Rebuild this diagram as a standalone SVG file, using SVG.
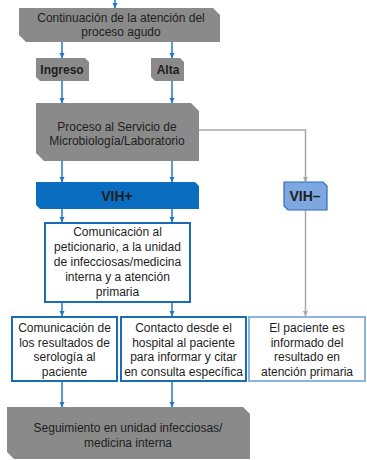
<svg xmlns="http://www.w3.org/2000/svg" width="367" height="460" viewBox="0 0 367 460">
<style>
.grey{fill:#8a8a8a}
.blue{fill:#0b6dbf}
.lblue{fill:#7ca7df;stroke:#2c6fb7;stroke-width:1.2}
.wbox{fill:#fff;stroke:#1a6db5;stroke-width:2}
.wbox2{fill:#fff;stroke:#8db2df;stroke-width:2}
text{font-family:"Liberation Sans",Arial,sans-serif;font-size:12px;fill:#1e1e1e;text-anchor:middle}
.b{font-weight:bold}
.v{font-weight:bold;font-size:14px}
.c{stroke:#1f78c8;stroke-width:1.5;fill:none}
.g{stroke:#a8a8a8;stroke-width:1.5;fill:none}
</style>
<defs>
<marker id="arr" markerWidth="6" markerHeight="6" refX="5" refY="3" orient="auto" markerUnits="userSpaceOnUse" viewBox="0 0 6 6"><path d="M0,0.5 L5.5,3 L0,5.5 Z" fill="#1f78c8"/></marker>
<marker id="arrg" markerWidth="6" markerHeight="6" refX="5" refY="3" orient="auto" markerUnits="userSpaceOnUse" viewBox="0 0 6 6"><path d="M0,0.5 L5.5,3 L0,5.5 Z" fill="#a8a8a8"/></marker>
</defs>
<g id="connectors">
<line class="c" x1="115" y1="0" x2="115" y2="8" marker-end="url(#arr)"/>
<line class="c" x1="62" y1="42" x2="62" y2="58" marker-end="url(#arr)"/>
<line class="c" x1="172" y1="42" x2="172" y2="58" marker-end="url(#arr)"/>
<line class="c" x1="62" y1="81" x2="62" y2="103" marker-end="url(#arr)"/>
<line class="c" x1="172" y1="81" x2="172" y2="103" marker-end="url(#arr)"/>
<line class="c" x1="62" y1="161" x2="62" y2="182" marker-end="url(#arr)"/>
<line class="c" x1="172" y1="161" x2="172" y2="182" marker-end="url(#arr)"/>
<line class="c" x1="62" y1="209" x2="62" y2="222" marker-end="url(#arr)"/>
<line class="c" x1="172" y1="209" x2="172" y2="222" marker-end="url(#arr)"/>
<line class="c" x1="62" y1="302" x2="62" y2="316" marker-end="url(#arr)"/>
<line class="c" x1="172" y1="302" x2="172" y2="316" marker-end="url(#arr)"/>
<line class="c" x1="62" y1="382" x2="62" y2="407" marker-end="url(#arr)"/>
<line class="c" x1="172" y1="382" x2="172" y2="407" marker-end="url(#arr)"/>
<polyline class="g" points="199,130 305.5,130 305.5,182" marker-end="url(#arrg)"/>
<line class="g" x1="305.5" y1="210" x2="305.5" y2="316" marker-end="url(#arrg)"/>
</g>
<g id="n-continuacion">
<path class="grey" d="M19,8 H213 L220,15 V42 H26 L19,35 Z"/>
<text x="121" y="22">Continuación de la atención del</text>
<text x="121" y="36">proceso agudo</text>
</g>
<g id="n-ingreso">
<path class="grey" d="M36,58 H85 L89,62 V81 H40 L36,77 Z"/>
<text class="b" x="62" y="74">Ingreso</text>
</g>
<g id="n-alta">
<path class="grey" d="M151,58 H180 L184,62 V81 H155 L151,77 Z"/>
<text class="b" x="168" y="74">Alta</text>
</g>
<g id="n-proceso">
<path class="grey" d="M36,103 H191 L199,111 V161 H44 L36,153 Z"/>
<text x="117" y="131">Proceso al Servicio de</text>
<text x="117" y="145">Microbiología/Laboratorio</text>
</g>
<g id="n-vihpos">
<path class="blue" d="M36,182 H195 L199,186 V209 H40 L36,205 Z"/>
<text class="v" x="117" y="200.5">VIH+</text>
</g>
<g id="n-vihneg">
<path class="lblue" d="M284,182 H323 L327,186 V210 H288 L284,206 Z"/>
<text class="v" x="305" y="201">VIH–</text>
</g>
<g id="n-comunicacion-al">
<rect class="wbox" x="45" y="223" width="145" height="79"/>
<text x="117.5" y="236">Comunicación al</text>
<text x="117.5" y="251">peticionario, a la unidad</text>
<text x="117.5" y="266">de infecciosas/medicina</text>
<text x="117.5" y="281">interna y a atención</text>
<text x="117.5" y="296">primaria</text>
</g>
<g id="n-comunicacion-resultados">
<rect class="wbox" x="12" y="317" width="105" height="64"/>
<text x="64.5" y="332">Comunicación de</text>
<text x="64.5" y="346.5">los resultados de</text>
<text x="64.5" y="361">serología al</text>
<text x="64.5" y="375.5">paciente</text>
</g>
<g id="n-contacto">
<rect class="wbox" x="121" y="317" width="125" height="64"/>
<text x="183.5" y="332">Contacto desde el</text>
<text x="183.5" y="346.5">hospital al paciente</text>
<text x="183.5" y="361">para informar y citar</text>
<text x="183.5" y="375.5">en consulta específica</text>
</g>
<g id="n-informado">
<rect class="wbox2" x="249" y="317" width="116" height="64"/>
<text x="307" y="332">El paciente es</text>
<text x="307" y="346.5">informado del</text>
<text x="307" y="361">resultado en</text>
<text x="307" y="375.5">atención primaria</text>
</g>
<g id="n-seguimiento">
<path class="grey" d="M7,407 H243 L250,414 V459 H14 L7,452 Z"/>
<text x="128" y="432">Seguimiento en unidad infecciosas/</text>
<text x="128" y="447">medicina interna</text>
</g>
</svg>
